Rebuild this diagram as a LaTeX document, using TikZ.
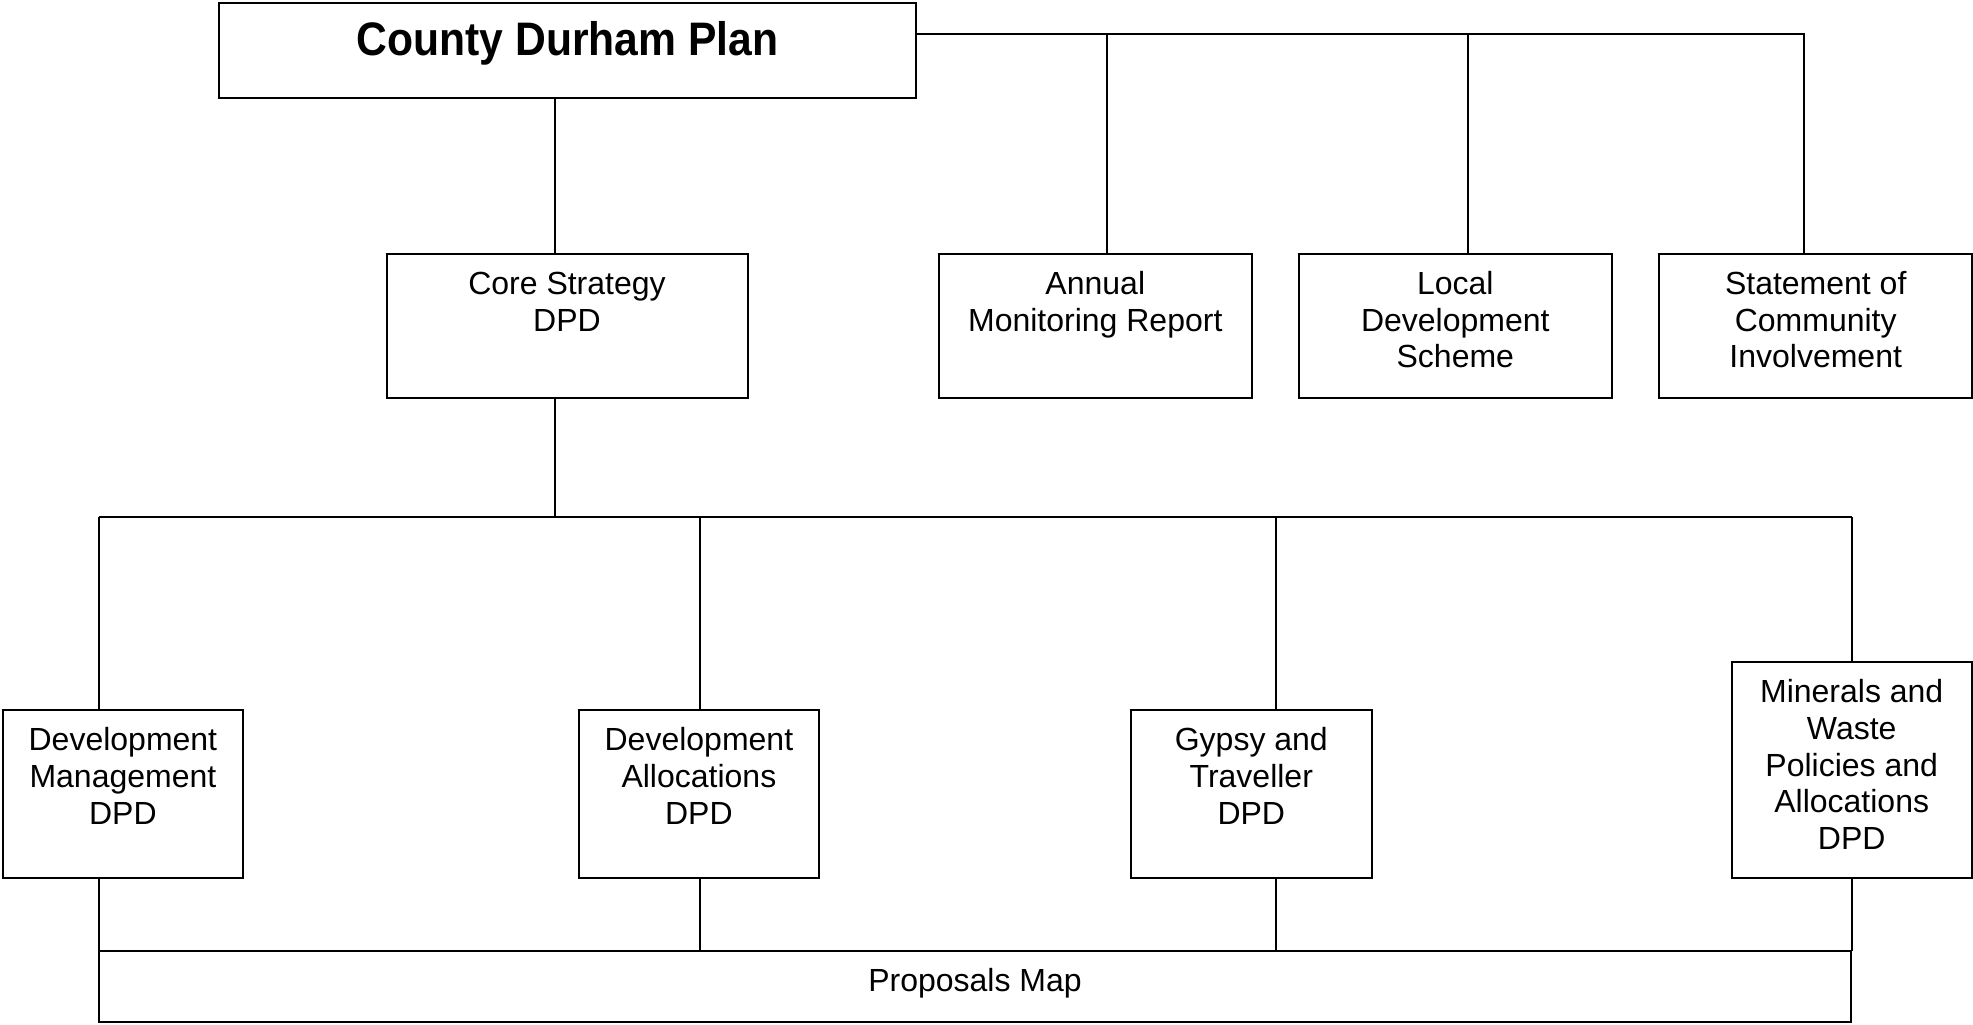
\documentclass[tikz,border=0pt]{standalone}
\usepackage{fontspec}
\setmainfont{Liberation Sans}
\usepackage{graphicx}
\newcommand\bxtext[4]{\parbox[c][#2][t]{#1}{\centering\rule{0pt}{#3}#4\par}}
\begin{document}
\begin{tikzpicture}[x=0.5pt,y=-0.5pt,
  box/.style={draw,line width=1pt,inner sep=0pt,outer sep=0pt,
    font=\fontsize{16}{18.3}\selectfont},
  conn/.style={line width=1pt}]
\useasboundingbox (0,0) rectangle (1973,1024);
% top
\node[box] (cdp) at (567.5,50.25)
  {\bxtext{348.5pt}{47.75pt}{26.25pt}{\fontsize{23.5}{28}\selectfont\bfseries\scalebox{0.907}[1]{County Durham Plan}}};
% row 2
\node[box] (cs) at (567,326) {\bxtext{180.5pt}{72pt}{20.2pt}{Core Strategy\\DPD}};
\node[box] (amr) at (1095.3,326) {\bxtext{156.6pt}{72pt}{20.2pt}{Annual\\Monitoring Report}};
\node[box] (lds) at (1455.3,326) {\bxtext{156.6pt}{72pt}{20.2pt}{Local\\Development\\Scheme}};
\node[box] (sci) at (1815.7,326) {\bxtext{156.4pt}{72pt}{20.2pt}{Statement of\\Community\\Involvement}};
% row 3
\node[box] (dm) at (122.9,793.6) {\bxtext{120.15pt}{83.9pt}{20.6pt}{Development\\Management\\DPD}};
\node[box] (da) at (698.9,793.6) {\bxtext{120.1pt}{83.9pt}{20.6pt}{Development\\Allocations\\DPD}};
\node[box] (gt) at (1251.3,793.6) {\bxtext{120.3pt}{83.9pt}{20.6pt}{Gypsy and\\Traveller\\DPD}};
\node[box] (mw) at (1851.7,769.85) {\bxtext{120pt}{107.85pt}{20.4pt}{Minerals and\\Waste\\Policies and\\Allocations\\DPD}};
% proposals map
\node[box] (pm) at (975,986.2) {\bxtext{876pt}{35.5pt}{20.5pt}{Proposals Map}};
% coordinates
\coordinate (t1) at (1107,33.7);
\coordinate (t2) at (1467.5,33.7);
\coordinate (t3) at (1803.7,33.7);
\coordinate (m0) at (555,0);
\coordinate (h0) at (555,517);
\coordinate (h1) at (99,517);
\coordinate (h2) at (699.6,517);
\coordinate (h3) at (1276,517);
\coordinate (h4) at (1852,517);
% connectors top
\draw[conn] (cdp.east |- t3) -- (t3) -- (t3 |- sci.north);
\draw[conn] (t1) -- (t1 |- amr.north);
\draw[conn] (t2) -- (t2 |- lds.north);
\draw[conn] (m0 |- cdp.south) -- (m0 |- cs.north);
\draw[conn] (m0 |- cs.south) -- (h0);
\draw[conn] (h1) -- (h4);
\draw[conn] (h1) -- (h1 |- dm.north);
\draw[conn] (h2) -- (h2 |- da.north);
\draw[conn] (h3) -- (h3 |- gt.north);
\draw[conn] (h4) -- (h4 |- mw.north);
% connectors bottom
\draw[conn] (h1 |- dm.south) -- (h1 |- pm.north);
\draw[conn] (h2 |- da.south) -- (h2 |- pm.north);
\draw[conn] (h3 |- gt.south) -- (h3 |- pm.north);
\draw[conn] (h4 |- mw.south) -- (h4 |- pm.north);
\end{tikzpicture}
\end{document}
